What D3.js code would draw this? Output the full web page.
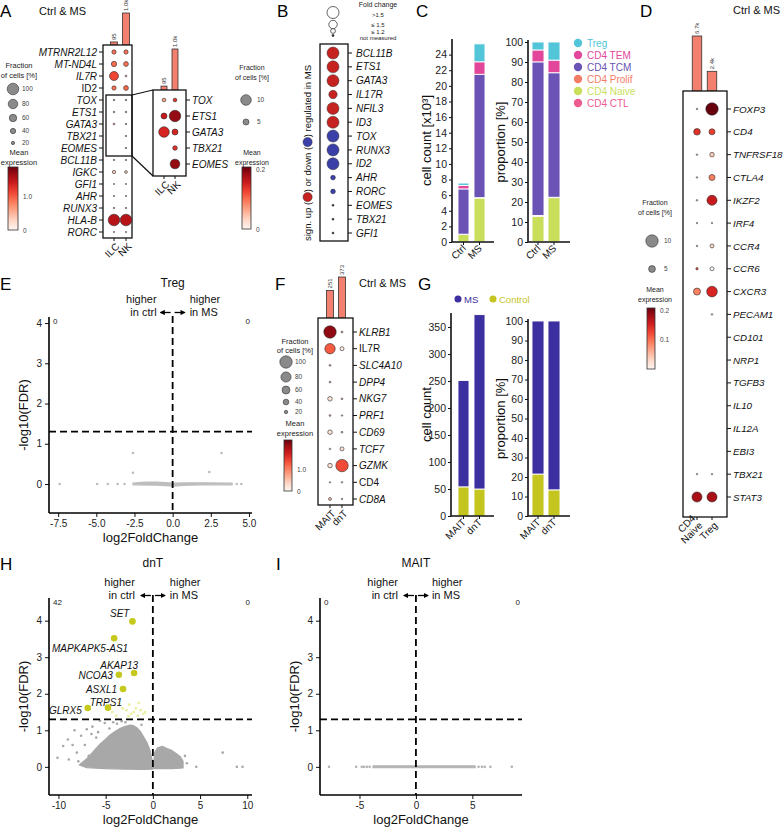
<!DOCTYPE html>
<html><head><meta charset="utf-8">
<script src="https://cdn.jsdelivr.net/npm/d3@7"></script>
<style>body{margin:0;background:#fff}</style>
</head><body>
<svg id="chart" width="784" height="828" style="font-family:'Liberation Sans',Arial,Helvetica,sans-serif"></svg>
<script>
// ---------------- DATA ----------------
// Panel A
const aGenes = ["MTRNR2L12","MT-ND4L","IL7R","ID2","TOX","ETS1","GATA3","TBX21","EOMES","BCL11B","IGKC","GFI1","AHR","RUNX3","HLA-B","RORC"];
const aUpright = ["ID2"];
const aCells = ["ILC","NK"];
const aCounts = [95, 1000];
const aCountLabels = ["95","1.0k"];
const aFracILC = [30,40,75,30,4,4,5,0,0,3,20,0.5,1,3,100,1];
const aFracNK  = [30,35,5,35,4,4,3,3,3,3,15,1,1,3,100,1];
const aExprILC = [0.9,0.95,1.15,0.9,0.5,0.5,0.5,0,0,0.4,0.35,0.1,0.1,0.4,1.55,0.1];
const aExprNK  = [0.9,0.9,0.5,0.95,0.5,0.5,0.5,0.4,0.4,0.4,0.3,0.1,0.1,0.4,1.55,0.1];
// Panel A inset
const azGenes = ["TOX","ETS1","GATA3","TBX21","EOMES"];
const azFracILC = [2.5,5,10,0,0];
const azFracNK  = [2.5,11,5,3.5,9];
const azExprILC = [0.07,0.16,0.15,0,0];
const azExprNK  = [0.14,0.19,0.15,0.14,0.19];
// Panel B
const bGenes = ["BCL11B","ETS1","GATA3","IL17R","NFIL3","ID3","TOX","RUNX3","ID2","AHR","RORC","EOMES","TBX21","GFI1"];
const bFoldChange = [">1.5",">1.5",">1.5","≤1.5",">1.5",">1.5",">1.5",">1.5",">1.5","≤1.2","≤1.2","not measured","not measured","not measured"];
const bDirection = ["up","up","up","up","up","up","down","down","down","down","down","none","none","none"];
const fcClasses = [">1.5","≤1.5","≤1.2","not measured"];
const fcLegendLabels = [">1.5","≤ 1.5","≤ 1.2","not measured"];
// Panel C
const cGroups = ["Ctrl","MS"];
const cTypes = ["CD4 CTL","CD4 Naive","CD4 Prolif","CD4 TCM","CD4 TEM","Treg"]; // stack bottom -> top
const cCtrl = [0.02,0.95,0.03,5.8,0.45,0.3];   // x10^3 cells
const cMS   = [0.03,5.6,0.05,15.8,1.6,2.3];
const cLegend = ["Treg","CD4 TEM","CD4 TCM","CD4 Prolif","CD4 Naive","CD4 CTL"];
const cCountTicks = [0,2,4,6,8,10,12,14,16,18,20,22,24];
const propTicks = [0,10,20,30,40,50,60,70,80,90,100];
// Panel D
const dGenes = ["FOXP3","CD4","TNFRSF18","CTLA4","IKZF2","IRF4","CCR4","CCR6","CXCR3","PECAM1","CD101","NRP1","TGFB3","IL10","IL12A","EBI3","TBX21","STAT3"];
const dCells = ["CD4 Naive","Treg"];
const dCounts = [6700, 2400];
const dCountLabels = ["6.7k","2.4k"];
const dFracNaive = [0.3,4.8,0.3,0.3,0.3,0.2,0.3,1.0,5.2,0,0,0,0,0,0,0,0.2,7.9];
const dFracTreg  = [10,4.3,3.0,4.3,7.9,0.2,2.5,2.5,8.4,0.3,0,0,0,0,0,0,0.2,7.9];
const dExprNaive = [0.02,0.14,0.02,0.02,0.02,0.01,0.02,0.12,0.09,0,0,0,0,0,0,0,0.01,0.18];
const dExprTreg  = [0.21,0.13,0.04,0.09,0.16,0.01,0.03,0.0,0.15,0.01,0,0,0,0,0,0,0.01,0.18];
// Panel E (Treg volcano)
const eX = [-7.4,-4.95,-4.25,-3.6,-3.15,-2.6,-2.6,2.4,3.2,4.2,4.5];
const eY = [0,0,0,0,0,0.77,0.28,0.3,0.77,0,0];
const eBandX = [-2.6,-1.8,-1.0,0,1,2,3.9,3.9,2,1,0,-1,-2.6];
const eBandY = [0.02,0.05,0.05,0.02,0.03,0.03,0.02,-0.02,-0.02,-0.03,-0.05,-0.03,-0.02];
const eCounts = ["0","0"];
// Panel F
const fGenes = ["KLRB1","IL7R","SLC4A10","DPP4","NKG7","PRF1","CD69","TCF7","GZMK","CD4","CD8A"];
const fUpright = ["IL7R","CD4"];
const fCells = ["MAIT","dnT"];
const fCounts = [251, 373];
const fCountLabels = ["251","373"];
const fFracMAIT = [100,82,5,5,30,5,30,3,30,2,15];
const fFracDnT  = [6,25,0,0,5,3,5,25,100,3,3];
const fExprMAIT = [2.2,1.3,0.5,0.5,0.25,0.5,0.25,0.15,0.25,0.1,0.5];
const fExprDnT  = [0.5,0.15,0,0,0.5,0.1,0.4,0.25,1.4,0.1,0.1];
// Panel G
const gCells = ["MAIT","dnT"];
const gKeys = ["Control","MS"];
const gMAIT = [54,197];
const gDnT  = [50,323];
const gCountTicks = [0,50,100,150,200,250,300,350];
// Panel H (dnT volcano)
const hNegCloudX = [-7.8,-7.0,-6.2,-5.6,-5.0,-4.6,-4.0,-3.5,-3.0,-2.4,-2.0,-1.7,-1.3,-1.0,-0.6,-0.3,-0.05,-0.05,-1.0,-3.0,-5.0,-7.0];
const hNegCloudY = [0.05,0.22,0.45,0.62,0.76,0.86,0.97,1.05,1.1,1.14,1.12,1.07,0.96,0.83,0.65,0.45,0.15,-0.06,-0.07,-0.06,-0.05,-0.02];
const hPosCloudX = [0.05,0.2,0.5,1.0,1.5,2.0,2.5,2.9,3.2,3.2,2.0,1.0,0.05];
const hPosCloudY = [0.0,0.4,0.52,0.56,0.5,0.45,0.36,0.28,0.15,-0.03,-0.05,-0.05,-0.05];
const hGrayX = [-10.1,-9.5,-9.0,-8.9,-8.3,-8.05,-7.6,-7.0,-6.4,-6.0,-5.6,-5.1,-4.6,-4.2,-3.8,-3.3,-2.9,-7.2,-6.8,-6.5,-5.8,-8.5,-7.9,-1.2,3.4,3.6,4.6,7.4,8.9,9.5];
const hGrayY = [0.25,0.57,0.75,0.2,1.0,0.39,0.85,1.03,1.1,0.8,1.26,1.2,1.05,1.22,1.18,1.25,1.22,0.6,0.3,0.9,0.95,0.6,0.15,1.15,0.3,0.1,0.0,0.39,0.0,0.0];
const hPaleX = [-3.6,-3.2,-2.8,-2.5,-2.3,-2.0,-1.8,-1.6,-1.3,-1.0,-0.8,-3.9,-4.3,-1.5,-2.6];
const hPaleY = [1.75,1.6,1.55,1.7,1.45,1.5,1.6,1.4,1.55,1.45,1.5,1.4,1.5,1.75,1.38];
const hSigGenes = ["SET","MAPKAPK5-AS1","AKAP13","NCOA3","ASXL1","TRPS1","GLRX5"];
const hSigX = [-2.16,-4.1,-1.99,-3.6,-3.16,-4.75,-6.9];
const hSigY = [3.98,3.52,2.57,2.52,2.13,1.62,1.61];
const hCounts = ["42","0"];
// Panel I (MAIT volcano)
const iX = [-7.7,-5.3,-4.8,-4.6,-4.35,-4.1,5.55,5.85,6.1,6.6,8.5];
const iY = [0,0,0,0,0,0,0,0,0,0,0];
const iBandX = [-3.8,5.25,5.25,-3.8];
const iBandY = [0.025,0.025,-0.025,-0.025];
const iCounts = ["0","0"];

// ---------------- DRAWING ----------------
const svg = d3.select('#chart');
const defs = svg.append('defs');
let gid = 0;
defs.append('marker').attr('id','arr').attr('viewBox','0 0 10 10').attr('refX',8).attr('refY',5)
  .attr('markerWidth',4).attr('markerHeight',4).attr('orient','auto')
  .append('path').attr('d','M0,0L10,5L0,10z').attr('fill','#000');

function T(g,x,y,s,o={}){
  const t=g.append('text').attr('x',x).attr('y',y).text(s).attr('font-size',o.size||10).attr('fill',o.fill||'#111');
  if(o.anchor) t.attr('text-anchor',o.anchor);
  if(o.italic) t.attr('font-style','italic');
  if(o.rot!=null) t.attr('transform',`rotate(${o.rot},${x},${y})`);
  return t;
}
function letter(x,y,s){T(svg,x,y,s,{size:17,fill:'#000'});}

function colorbar(x,y,w,h,max,ticks,fs){
  const id='cb'+(gid++);
  const lg=defs.append('linearGradient').attr('id',id).attr('x1',0).attr('y1',1).attr('x2',0).attr('y2',0);
  [0,0.15,0.3,0.45,0.6,0.75,0.9,1].forEach(t=>lg.append('stop').attr('offset',t).attr('stop-color',d3.interpolateReds(t)));
  svg.append('rect').attr('x',x).attr('y',y).attr('width',w).attr('height',h).attr('fill',`url(#${id})`).attr('stroke','#333').attr('stroke-width',0.8);
  ticks.forEach(t=>T(svg,x+w+5,y+h-(t[0]/max)*h+2.5,t[1],{size:fs||6.5,fill:'#444'}));
}
function sizeLegend(cx,ys,vals,r,lx,fs){
  vals.forEach((v,i)=>{
    svg.append('circle').attr('cx',cx).attr('cy',ys[i]).attr('r',r(v)).attr('fill','#8a8a8a').attr('stroke','#333').attr('stroke-width',0.6);
    T(svg,lx,ys[i]+2.2,v,{size:fs||6.5,fill:'#444'});
  });
}
function legendTitle(cx,y1,y2,l1,l2,fs){
  T(svg,cx,y1,l1,{size:fs,anchor:'middle',fill:'#222'});
  T(svg,cx,y2,l2,{size:fs,anchor:'middle',fill:'#222'});
}

function dotPlot(o){
  const g=svg.append('g');
  const y=d3.scalePoint().domain(o.genes).range(o.rows);
  const x=d3.scalePoint().domain(o.cols).range(o.colsX);
  const col=d3.scaleSequential(d3.interpolateReds).domain([0,o.cmax]);
  const [bx0,by0,bx1,by1]=o.box;
  if(o.counts){
    const h=d3.scaleLinear().domain([0,o.countMax]).range([0,o.barH]);
    o.cols.forEach((c,i)=>{
      const bh=h(o.counts[i]);
      g.append('rect').attr('x',x(c)-o.barW/2).attr('y',by0-bh).attr('width',o.barW).attr('height',bh)
        .attr('fill','#f3806f').attr('stroke','#333').attr('stroke-width',0.8);
      const lx=x(c)+2.2, ly=by0-bh-2;
      T(g,lx,ly,o.countLabels[i],{size:6,fill:'#333',rot:-90});
    });
  }
  g.append('rect').attr('x',bx0).attr('y',by0).attr('width',bx1-bx0).attr('height',by1-by0)
    .attr('fill','#fff').attr('stroke','#111').attr('stroke-width',1.3);
  o.cols.forEach((c,ci)=>{
    o.genes.forEach((gn,gi)=>{
      const f=o.frac[ci][gi]; if(!f) return;
      g.append('circle').attr('cx',x(c)).attr('cy',y(gn)).attr('r',o.r(f))
        .attr('fill',col(o.expr[ci][gi])).attr('stroke','#2a2a2a').attr('stroke-width',0.6);
    });
  });
  o.genes.forEach(gn=>{
    const yy=y(gn);
    const up=(o.upright||[]).includes(gn);
    if(o.side==='right'){
      g.append('line').attr('x1',bx1).attr('x2',bx1+4).attr('y1',yy).attr('y2',yy).attr('stroke','#111');
      T(g,bx1+6,yy+3.6,gn,{size:o.fs,italic:!up});
    } else {
      g.append('line').attr('x1',bx0-4).attr('x2',bx0).attr('y1',yy).attr('y2',yy).attr('stroke','#111');
      T(g,bx0-6,yy+3.6,gn,{size:o.fs,italic:!up,anchor:'end'});
    }
  });
  if(o.showX!==false){
    o.cols.forEach((c,i)=>{
      g.append('line').attr('x1',x(c)).attr('x2',x(c)).attr('y1',by1).attr('y2',by1+3).attr('stroke','#111');
      const lines=(o.xLabels||o.cols)[i].split('\n');
      const px=x(c)+4, py=by1+7;
      const t=g.append('text').attr('text-anchor','end').attr('font-size',o.xfs||10).attr('fill','#111')
        .attr('transform',`translate(${px},${py}) rotate(-45)`);
      lines.forEach((ln,li)=>t.append('tspan').attr('x',0).attr('y',(li-(lines.length-1))*(o.xfs||10)*1.0 + 3).text(ln));
    });
  }
  return {g,x,y};
}

// ===== Panel A =====
letter(0,17,'A');
T(svg,39,15,'Ctrl & MS',{size:11});
const rA=d3.scaleLinear().domain([0,100]).range([0.6,5.8]);
dotPlot({genes:aGenes,cols:aCells,box:[103,45,132,238],rows:[52,232],colsX:[114,126],
  frac:[aFracILC,aFracNK],expr:[aExprILC,aExprNK],r:rA,cmax:1.9,side:'left',fs:10,upright:aUpright,
  counts:aCounts,countLabels:aCountLabels,countMax:1000,barH:32,barW:7});
// highlight rectangle + connectors
svg.append('rect').attr('x',106).attr('y',95).attr('width',26).attr('height',61).attr('fill','none').attr('stroke','#111').attr('stroke-width',1.3);
svg.append('line').attr('x1',132).attr('y1',95).attr('x2',153).attr('y2',90).attr('stroke','#111').attr('stroke-width',1.2);
svg.append('line').attr('x1',132).attr('y1',156).attr('x2',153).attr('y2',176).attr('stroke','#111').attr('stroke-width',1.2);
const rAz=d3.scaleLinear().domain([0,10]).range([0.7,5.3]);
dotPlot({genes:azGenes,cols:aCells,box:[153,90,186,176],rows:[100,164],colsX:[164,175],
  frac:[azFracILC,azFracNK],expr:[azExprILC,azExprNK],r:rAz,cmax:0.21,side:'right',fs:10,
  counts:aCounts,countLabels:aCountLabels,countMax:1000,barH:41,barW:6});
// A legends
legendTitle(19,68,78,'Fraction','of cells [%]',7.5);
sizeLegend(13,[89,104,118,131,143],[100,80,60,40,20],rA,22,6.5);
legendTitle(19,155,165,'Mean','expression',7.5);
colorbar(8,167,10,63,1.9,[[1.0,'1.0'],[0,'0']],6.5);
// inset legends
legendTitle(252,70,80,'Fraction','of cells [%]',7);
sizeLegend(246,[100,122],[10,5],rAz,257,6.5);
legendTitle(252,155,165,'Mean','expression',7);
colorbar(242,167,9,62,0.21,[[0.2,'0.2'],[0,'0']],6.5);

// ===== Panel B =====
letter(277,17,'B');
(function(){
  const g=svg.append('g');
  const y=d3.scalePoint().domain(bGenes).range([53,233]);
  const r=d3.scaleOrdinal().domain(fcClasses).range([6,4.2,2.4,1.0]);
  const c=d3.scaleOrdinal().domain(["up","down","none"]).range(["#c62320","#3b3fa8","#222"]);
  g.append('rect').attr('x',320).attr('y',44).attr('width',28).attr('height',197).attr('fill','#fff').attr('stroke','#111').attr('stroke-width',1.3);
  bGenes.forEach((gn,i)=>{
    g.append('circle').attr('cx',333).attr('cy',y(gn)).attr('r',r(bFoldChange[i])).attr('fill',c(bDirection[i])).attr('stroke','#333').attr('stroke-width',0.5);
    g.append('line').attr('x1',348).attr('x2',352).attr('y1',y(gn)).attr('y2',y(gn)).attr('stroke','#111');
    T(g,356,y(gn)+3.6,gn,{size:10,italic:true});
  });
  const ly=[12.5,24.5,31,35.5];
  fcClasses.forEach((k,i)=>{
    g.append('circle').attr('cx',333).attr('cy',ly[i]).attr('r',r(k)).attr('fill',i===3?'#222':'#fff').attr('stroke','#222').attr('stroke-width',0.7);
  });
  T(g,378,7,'Fold change',{size:7,anchor:'middle',fill:'#222'});
  const ty=[17,27,33.5,40];
  fcLegendLabels.forEach((s,i)=>T(g,378,ty[i],s,{size:6,anchor:'middle',fill:'#222'}));
  const rg=g.append('g').attr('transform','translate(311,241) rotate(-90)');
  const parts=['sign. up (',{c:'up'},') or down (',{c:'down'},') regulated in MS'];
  let cx=0;
  parts.forEach(p=>{
    if(typeof p==='string'){
      const t=rg.append('text').attr('x',cx).attr('y',0).attr('font-size',9.5).attr('fill','#111').text(p);
      cx+=t.node().getComputedTextLength();
    } else {
      rg.append('circle').attr('cx',cx+4.8).attr('cy',-3.4).attr('r',4.6).attr('fill',c(p.c)).attr('stroke','#333').attr('stroke-width',0.5);
      cx+=9.6;
    }
  });
})();

// ===== stacked bar helper =====
function stacked(o){
  const g=svg.append('g');
  const y=d3.scaleLinear().domain(o.yd).range([o.B,o.T]);
  const x=d3.scalePoint().domain(o.groups).range(o.cx);
  const rows=o.groups.map((gr,gi)=>{const r={};o.keys.forEach((k,ki)=>r[k]=o.vals[gi][ki]);return r;});
  const st=d3.stack().keys(o.keys).offset(o.expand?d3.stackOffsetExpand:d3.stackOffsetNone)(rows);
  const f=o.expand?100:1;
  st.forEach(s=>s.forEach((d,di)=>{
    const y1=y(d[1]*f), y0=y(d[0]*f);
    if(y0-y1<=0.01) return;
    g.append('rect').attr('x',x(o.groups[di])-o.w/2).attr('y',y1).attr('width',o.w).attr('height',y0-y1)
      .attr('fill',o.colors[s.key]).attr('stroke','#fff').attr('stroke-width',0.9);
  }));
  const ay=g.append('g').attr('transform',`translate(${o.ax},0)`).call(d3.axisLeft(y).tickValues(o.ticks).tickFormat(d3.format('d')).tickSize(3).tickPadding(2));
  ay.select('.domain').remove();
  ay.selectAll('line').attr('stroke','#111').attr('stroke-width',1);
  ay.selectAll('text').attr('font-size',10.5).attr('fill','#222').attr('font-family','inherit');
  g.append('line').attr('x1',o.ax).attr('x2',o.ax).attr('y1',o.B).attr('y2',o.axTop).attr('stroke','#111').attr('stroke-width',1.6);
  g.append('line').attr('x1',o.ax).attr('x2',o.xEnd).attr('y1',o.B).attr('y2',o.B).attr('stroke','#111').attr('stroke-width',1.6);
  o.groups.forEach(gr=>{
    g.append('line').attr('x1',x(gr)).attr('x2',x(gr)).attr('y1',o.B).attr('y2',o.B+3).attr('stroke','#111');
    T(g,x(gr)+3,o.B+7,gr,{size:10,anchor:'end',rot:-45});
  });
  T(g,o.titleX,(o.B+o.T)/2,o.title,{size:13,anchor:'middle',rot:-90,fill:'#111'});
  return g;
}

// ===== Panel C =====
letter(416,17,'C');
const cColors={"Treg":"#52c5d8","CD4 TEM":"#e3479b","CD4 TCM":"#6a53b4","CD4 Prolif":"#f47d66","CD4 Naive":"#c9df5c","CD4 CTL":"#ee5b91"};
stacked({groups:cGroups,keys:cTypes,vals:[cCtrl,cMS],colors:cColors,yd:[0,26],B:242,T:39,axTop:39,
  cx:[463.5,479.5],w:11,ax:452,xEnd:494,ticks:cCountTicks,title:'cell count [x10³]',titleX:431});
stacked({groups:cGroups,keys:cTypes,vals:[cCtrl,cMS],colors:cColors,expand:true,yd:[0,100],B:242,T:42,axTop:40,
  cx:[538,554],w:12,ax:528,xEnd:570,ticks:propTicks,title:'proportion [%]',titleX:505});
cLegend.forEach((k,i)=>{
  const yy=43+i*12;
  svg.append('circle').attr('cx',578).attr('cy',yy).attr('r',4.2).attr('fill',cColors[k]);
  T(svg,587,yy+3.6,k,{size:10,fill:cColors[k]});
});

// ===== Panel D =====
letter(640,17,'D');
T(svg,733,14,'Ctrl & MS',{size:11});
const rD=d3.scaleLinear().domain([0,10]).range([0.6,6.2]);
dotPlot({genes:dGenes,cols:dCells,xLabels:["CD4\nNaive","Treg"],box:[683,91,727,517],rows:[109,497],colsX:[697,712],
  frac:[dFracNaive,dFracTreg],expr:[dExprNaive,dExprTreg],r:rD,cmax:0.21,side:'right',fs:9.8,
  counts:dCounts,countLabels:dCountLabels,countMax:6700,barH:55,barW:9.5});
legendTitle(655,205,215,'Fraction','of cells [%]',7);
sizeLegend(652,[241,269],[10,5],rD,664,6.5);
legendTitle(655,292,302,'Mean','expression',7);
colorbar(647,308,8,61,0.21,[[0.2,'0.2'],[0.1,'0.1']],6.5);

// ===== volcano helper =====
function volcano(o){
  const g=svg.append('g');
  const x=d3.scaleLinear().domain(o.xd).range([o.L,o.R]);
  const y=d3.scaleLinear().domain(o.yd).range([o.B,o.T]);
  (o.clouds||[]).forEach(c=>{
    const pts=c[0].map((v,i)=>[x(v),y(c[1][i])]);
    g.append('path').attr('d',d3.line().curve(d3.curveLinearClosed)(pts)).attr('fill',o.gray).attr('stroke',o.gray).attr('stroke-width',1.2).attr('stroke-linejoin','round');
  });
  o.px.forEach((v,i)=>g.append('circle').attr('cx',x(v)).attr('cy',y(o.py[i])).attr('r',1.3).attr('fill',o.gray));
  if(o.pale) o.pale[0].forEach((v,i)=>g.append('circle').attr('cx',x(v)).attr('cy',y(o.pale[1][i])).attr('r',1.4).attr('fill','#eceea0'));
  g.append('line').attr('x1',o.L).attr('x2',o.R).attr('y1',y(1.3)).attr('y2',y(1.3)).attr('stroke','#000').attr('stroke-width',1.8).attr('stroke-dasharray','7,4');
  g.append('line').attr('x1',x(0)).attr('x2',x(0)).attr('y1',o.vTop).attr('y2',o.B).attr('stroke','#000').attr('stroke-width',1.8).attr('stroke-dasharray','7,4');
  if(o.sig){
    o.sig.x.forEach((v,i)=>g.append('circle').attr('cx',x(v)).attr('cy',y(o.sig.y[i])).attr('r',3.3).attr('fill','#c5c91d'));
    o.sig.x.forEach((v,i)=>{
      const [dx,dy]=o.sig.off[i];
      T(g,x(v)+dx,y(o.sig.y[i])+dy,o.sig.names[i],{size:10,italic:true,anchor:'end'});
    });
  }
  const ax=g.append('g').attr('transform',`translate(0,${o.B})`).call(d3.axisBottom(x).tickValues(o.xt).tickFormat(o.fmt).tickSize(4).tickPadding(3));
  const ay=g.append('g').attr('transform',`translate(${o.L},0)`).call(d3.axisLeft(y).tickValues([0,1,2,3,4]).tickFormat(d3.format('d')).tickSize(4).tickPadding(3));
  [ax,ay].forEach(a=>{a.select('.domain').remove();a.selectAll('line').attr('stroke','#111');a.selectAll('text').attr('font-size',10).attr('fill','#222').attr('font-family','inherit');});
  g.append('line').attr('x1',o.L).attr('x2',o.L).attr('y1',o.B).attr('y2',o.T).attr('stroke','#000').attr('stroke-width',1.6);
  g.append('line').attr('x1',o.L).attr('x2',o.R).attr('y1',o.B).attr('y2',o.B).attr('stroke','#000').attr('stroke-width',1.6);
  const x0=x(0);
  T(g,x0,o.titleY,o.title,{size:12,anchor:'middle'});
  T(g,x0-o.gapL,o.titleY+o.h1,'higher',{size:11,anchor:'end'});
  T(g,x0-o.gapL,o.titleY+o.h2,'in ctrl',{size:11,anchor:'end'});
  T(g,x0+o.gapR,o.titleY+o.h1,'higher',{size:11});
  T(g,x0+o.gapR,o.titleY+o.h2,'in MS',{size:11});
  const ay2=o.titleY+o.h2-3.5;
  g.append('line').attr('x1',x0-2).attr('x2',x0-12).attr('y1',ay2).attr('y2',ay2).attr('stroke','#000').attr('stroke-width',1.3).attr('marker-end','url(#arr)');
  g.append('line').attr('x1',x0+2).attr('x2',x0+12).attr('y1',ay2).attr('y2',ay2).attr('stroke','#000').attr('stroke-width',1.3).attr('marker-end','url(#arr)');
  T(g,o.L+4,o.T+7,o.counts[0],{size:8,fill:'#222'});
  T(g,o.R-2,o.T+7,o.counts[1],{size:8,fill:'#222',anchor:'end'});
  T(g,o.L-21,(o.B+o.T)/2,'-log10(FDR)',{size:13,anchor:'middle',rot:-90});
  T(g,(o.L+o.R)/2,o.B+28.5,'log2FoldChange',{size:13,anchor:'middle'});
  return g;
}

// ===== Panel E =====
letter(0,290,'E');
volcano({L:49,R:252,T:317,B:513,xd:[-8.1,5.2],yd:[-0.72,4.15],xt:[-7.5,-5,-2.5,0,2.5,5],fmt:d=>d.toFixed(1),
  gray:'#bdbdbd',clouds:[[eBandX,eBandY]],px:eX,py:eY,vTop:316,title:'Treg',titleY:287,h1:16,h2:29,gapL:16,gapR:17,counts:eCounts});

// ===== Panel F =====
letter(275,290,'F');
T(svg,359,287,'Ctrl & MS',{size:11});
const rF=d3.scaleLinear().domain([0,100]).range([0.6,6.2]);
dotPlot({genes:fGenes,cols:fCells,box:[318,318,353,505],rows:[332,499],colsX:[330,342],
  frac:[fFracMAIT,fFracDnT],expr:[fExprMAIT,fExprDnT],r:rF,cmax:2.4,side:'right',fs:10,upright:fUpright,
  counts:fCounts,countLabels:fCountLabels,countMax:373,barH:41,barW:7});
legendTitle(295,344,353,'Fraction','of cells [%]',7.5);
sizeLegend(286,[362,377,390,402,412],[100,80,60,40,20],rF,295,6.5);
legendTitle(295,426,436,'Mean','expression',7.5);
colorbar(284,440,8,51,2.4,[[1.0,'1.0'],[0,'0']],6.5);

// ===== Panel G =====
letter(418,290,'G');
const gColors={"MS":"#3c2f9f","Control":"#c5c51f"};
stacked({groups:gCells,keys:gKeys,vals:[gMAIT,gDnT],colors:gColors,yd:[0,376],B:516,T:313,axTop:313,
  cx:[463.5,479.5],w:11,ax:451,xEnd:494,ticks:gCountTicks,title:'cell count',titleX:431});
stacked({groups:gCells,keys:gKeys,vals:[gMAIT,gDnT],colors:gColors,expand:true,yd:[0,100],B:516,T:321,axTop:319,
  cx:[538,554],w:12,ax:528,xEnd:570,ticks:propTicks,title:'proportion [%]',titleX:505});
svg.append('circle').attr('cx',458).attr('cy',299).attr('r',3.5).attr('fill',gColors.MS);
T(svg,464,302.5,'MS',{size:9.5,fill:gColors.MS});
svg.append('circle').attr('cx',493).attr('cy',299).attr('r',3.5).attr('fill',gColors.Control);
T(svg,499,302.5,'Control',{size:9.5,fill:gColors.Control});

// ===== Panel H =====
letter(0,570,'H');
const hLabelOffsets=[[-3,-4],[14,14],[4,-4],[-6,4],[-6,4],[14,-2],[-6,6]];
volcano({L:49,R:252,T:598,B:795,xd:[-11,10.5],yd:[-0.77,4.62],xt:[-10,-5,0,5,10],fmt:d=>String(d),
  gray:'#a8a8a8',clouds:[[hNegCloudX,hNegCloudY],[hPosCloudX,hPosCloudY]],px:hGrayX,py:hGrayY,pale:[hPaleX,hPaleY],
  sig:{x:hSigX,y:hSigY,names:hSigGenes,off:hLabelOffsets},
  vTop:595,title:'dnT',titleY:567,h1:19,h2:32,gapL:18,gapR:17,counts:hCounts});

// ===== Panel I =====
letter(276,570,'I');
volcano({L:320,R:522,T:598,B:795,xd:[-8.5,9.4],yd:[-0.77,4.62],xt:[-5,0,5],fmt:d=>String(d),
  gray:'#b3b3b3',clouds:[[iBandX,iBandY]],px:iX,py:iY,
  vTop:595,title:'MAIT',titleY:567,h1:19,h2:32,gapL:18,gapR:16,counts:iCounts});
</script>
</body></html>
